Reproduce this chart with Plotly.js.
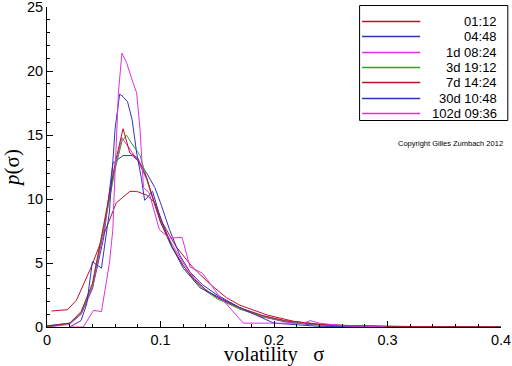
<!DOCTYPE html>
<html><head><meta charset="utf-8">
<script src="https://cdn.plot.ly/plotly-3.0.1.min.js"></script>
<style>html,body{margin:0;padding:0;background:#fff}#chart{width:512px;height:366px}</style>
</head><body><div id="chart"></div>
<script>
// Series names and colors
const seriesNames = ["01:12", "04:48", "1d 08:24", "3d 19:12", "7d 14:24", "30d 10:48", "102d 09:36"];
const seriesColors = ["#c0102a", "#3333bb", "#e030e0", "#22aa22", "#c0102a", "#3333bb", "#e030e0"];

// 01:12
const x1 = [0.004,0.018,0.026,0.039,0.049,0.057,0.061,0.073,0.079,0.088,0.095,0.102,0.114,0.128,0.143,0.158,0.170,0.194,0.217,0.238,0.26,0.3,0.35,0.4];
const y1 = [1.25,1.35,2.1,4.7,7.0,8.9,9.7,10.6,10.6,10.3,9.7,8.1,6.25,4.7,3.4,2.3,1.7,0.94,0.45,0.23,0.12,0.05,0.02,0.01];
// 04:48
const x2 = [0.0,0.02,0.03,0.04,0.05,0.058,0.067,0.075,0.08,0.088,0.095,0.1,0.108,0.117,0.126,0.137,0.15,0.17,0.19,0.21,0.23,0.26,0.3,0.35,0.4];
const y2 = [0.1,0.3,1.0,3.0,7.0,12.8,13.4,13.4,13.0,12.0,10.9,9.7,7.6,5.6,4.3,3.3,2.5,1.5,0.8,0.4,0.2,0.08,0.03,0.01,0.0];
// 1d 08:24
const x3 = [0.0,0.02,0.03,0.04,0.05,0.06,0.066,0.072,0.08,0.088,0.095,0.1,0.11,0.12,0.13,0.14,0.15,0.17,0.19,0.21,0.23,0.26,0.3,0.35,0.4];
const y3 = [0.0,0.2,1.0,3.0,7.5,12.5,14.8,14.0,13.0,11.5,9.5,8.3,6.5,5.0,3.8,2.9,2.3,1.4,0.8,0.45,0.25,0.1,0.03,0.01,0.0];
// 3d 19:12
const x4 = [0.0,0.02,0.03,0.04,0.05,0.06,0.066,0.07,0.075,0.082,0.09,0.1,0.11,0.12,0.13,0.14,0.15,0.17,0.19,0.21,0.24,0.28,0.33,0.4];
const y4 = [0.0,0.3,1.1,3.2,7.8,12.3,14.5,15.0,14.3,13.4,11.0,8.2,6.2,4.8,3.6,2.8,2.2,1.4,0.85,0.45,0.18,0.06,0.02,0.0];
// 7d 14:24
const x5 = [0.0,0.02,0.03,0.04,0.05,0.06,0.067,0.073,0.08,0.088,0.095,0.1,0.11,0.12,0.13,0.14,0.15,0.17,0.19,0.21,0.24,0.28,0.33,0.4];
const y5 = [0.05,0.3,1.2,3.4,8.0,12.8,15.5,13.6,13.2,11.6,9.6,8.2,6.3,4.8,3.7,2.9,2.3,1.5,0.9,0.5,0.2,0.08,0.03,0.01];
// 30d 10:48
const x6 = [0.02,0.03,0.035,0.040,0.048,0.055,0.060,0.064,0.067,0.071,0.075,0.079,0.083,0.086,0.093,0.1,0.11,0.12,0.135,0.175,0.2,0.24,0.296];
const y6 = [0.0,0.5,1.8,5.1,4.6,9.0,15.5,18.2,18.0,17.6,16.2,13.6,11.7,9.9,10.6,8.5,6.3,4.6,3.05,1.3,0.3,0.05,0.0];
// 102d 09:36
const x7 = [0.02,0.032,0.041,0.048,0.055,0.058,0.060,0.063,0.066,0.070,0.075,0.079,0.082,0.085,0.090,0.099,0.108,0.119,0.126,0.137,0.151,0.173,0.20,0.226,0.232,0.24,0.26,0.3];
const y7 = [0.0,0.0,1.3,1.2,5.0,7.6,12.3,18.4,21.4,20.7,19.3,18.3,15.4,10.9,10.5,7.6,6.95,7.0,4.7,4.2,2.5,0.3,0.3,0.3,0.5,0.3,0.1,0.0];

const xTickVals = [0,0.1,0.2,0.3,0.4];
const xTickText = ['0','0.1','0.2','0.3','0.4'];

const xs = [x1,x2,x3,x4,x5,x6,x7];
const ys = [y1,y2,y3,y4,y5,y6,y7];

const traces = xs.map((x,i)=>({
  x: x, y: ys[i], type: 'scatter', mode: 'lines', name: seriesNames[i],
  line: {color: seriesColors[i], width: 1}, showlegend: false
}));

// manual legend (right-aligned labels like the reference)
const shapes = [];
const annotations = [];
const L = 47.4, R = 500.7, T = 7, B = 327;
const px2x = p => (p - L) / (R - L);
const py2y = p => (B - p) / (B - T);
seriesNames.forEach((n,i)=>{
  const yy = py2y(Math.round(21 + i*15.3) + 0.5);
  shapes.push({type:'line', xref:'paper', yref:'paper', x0:px2x(362), x1:px2x(420), y0:yy, y1:yy, layer:'above', opacity:1, line:{color:seriesColors[i], width:1.3}});
  annotations.push({xref:'paper', yref:'paper', x:px2x(499), y:yy, xanchor:'right', yanchor:'middle', text:n, showarrow:false, font:{family:'Liberation Sans, Arial', size:13, color:'#000'}});
});
shapes.push({type:'rect', xref:'paper', yref:'paper', x0:px2x(359.5), x1:px2x(507.5), y0:py2y(5.5), y1:py2y(120.5), line:{color:'#000', width:1}, fillcolor:'rgba(0,0,0,0)'});
annotations.push({xref:'paper', yref:'paper', x:px2x(505), y:py2y(143), xanchor:'right', yanchor:'middle', text:'Copyright Gilles Zumbach 2012', showarrow:false, font:{family:'Liberation Sans, Arial', size:7.5, color:'#000'}});

const layout = {
  width: 512, height: 366,
  margin: {l: 47.4, r: 11.3, t: 7, b: 39, pad: 0},
  paper_bgcolor: '#fff', plot_bgcolor: '#fff',
  showlegend: false,
  xaxis: {
    range: [0, 0.4], tickvals: xTickVals, ticktext: xTickText,
    ticks: 'inside', ticklen: 6, tickcolor: '#000', tickwidth: 1,
    minor: {dtick: 0.02, tick0: 0, ticks: 'inside', ticklen: 3, tickcolor: '#000'},
    showline: true, linecolor: '#000', linewidth: 1, showgrid: false, zeroline: false,
    ticklabeloverflow: 'allow',
    tickfont: {family: 'Liberation Sans, Arial', size: 14.5, color: '#000'},
    title: {text: 'volatility&nbsp;&nbsp;&nbsp;σ', font: {family: 'Liberation Serif, Times New Roman', size: 20.5, color: '#000'}, standoff: 6}
  },
  yaxis: {
    range: [0, 25.01], tickmode: 'linear', tick0: 0, dtick: 5,
    ticks: 'inside', ticklen: 6, tickcolor: '#000', tickwidth: 1,
    minor: {dtick: 1, tick0: 0, ticks: 'inside', ticklen: 3, tickcolor: '#000'},
    showline: true, linecolor: '#000', linewidth: 1, showgrid: false, zeroline: false,
    ticklabeloverflow: 'allow', ticklabelshift: -1.5,
    tickfont: {family: 'Liberation Sans, Arial', size: 14.5, color: '#000'},
    title: {text: '<i>p</i>(σ)', font: {family: 'Liberation Serif, Times New Roman', size: 21, color: '#000'}, standoff: 6}
  },
  shapes: shapes,
  annotations: annotations
};
Plotly.newPlot('chart', traces, layout, {displayModeBar: false, staticPlot: true});
</script></body></html>
